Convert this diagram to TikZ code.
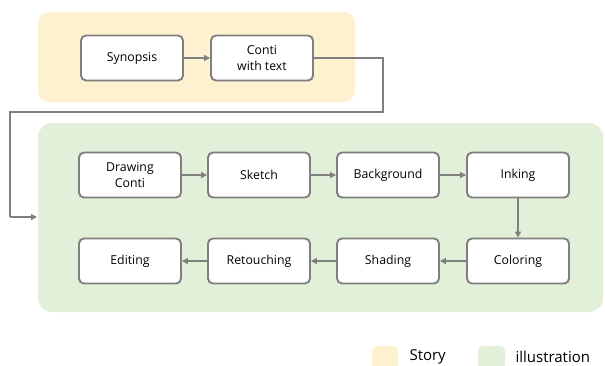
\documentclass[tikz,border=0pt]{standalone}
\usepackage{fontspec}
\setmainfont{Open Sans}
\usepackage{tikz}
\usetikzlibrary{positioning,arrows.meta,calc}
\definecolor{storyColor}{HTML}{FDF1D0}
\definecolor{illuColor}{HTML}{E2EFD9}
\definecolor{lineGray}{HTML}{7F7F7F}

\tikzset{
  stagebox/.style={draw=lineGray, line width=1.9pt, fill=white, rounded corners=5pt,
    minimum width=102pt, minimum height=45pt, align=center, font=\fontsize{12.3}{16.5}\selectfont},
  link/.style={draw=lineGray, line width=1.3pt, -{Triangle[length=6pt,width=6pt]}},
  route/.style={draw=lineGray, line width=1.2pt},
  legendtext/.style={anchor=west, font=\fontsize{15}{17}\selectfont},
}

\begin{document}
\begin{tikzpicture}[x=1pt, y=-1pt]
  \useasboundingbox (0,0) rectangle (605,365);

  % Panels
  \fill[storyColor, rounded corners=11pt] (38,12) rectangle (355,102);
  \fill[illuColor, rounded corners=14pt] (38,123) rectangle (603,312);

  % Story
  \node[stagebox] (synopsis) at (132,58) {Synopsis};
  \node[stagebox] (contitext) at (262,58) {Conti\\with text};

  % Illustration, first row
  \node[stagebox] (drawconti) at (130,175) {Drawing\\Conti};
  \node[stagebox] (sketch) at (259,175) {Sketch};
  \node[stagebox] (background) at (388,175) {Background};
  \node[stagebox] (inking) at (518,175) {Inking};

  % Illustration, second row
  \node[stagebox] (editing) at (130,261) {Editing};
  \node[stagebox] (retouching) at (259,261) {Retouching};
  \node[stagebox] (shading) at (388,261) {Shading};
  \node[stagebox] (coloring) at (518,261) {Coloring};

  % Arrows
  \draw[link] (synopsis) -- (contitext);
  \draw[link] (drawconti) -- (sketch);
  \draw[link] (sketch) -- (background);
  \draw[link] (background) -- (inking);
  \draw[link] (inking) -- (coloring);
  \draw[link] (coloring) -- (shading);
  \draw[link] (shading) -- (retouching);
  \draw[link] (retouching) -- (editing);

  % Story to illustration
  \coordinate (turnA) at (383,112);
  \coordinate (turnB) at (10,217);
  \coordinate (illuIn) at (37,217);
  \draw[route] (contitext.east) -| (turnA) -| (turnB);
  \draw[link] (turnB) -- (illuIn);

  % Legend
  \fill[storyColor, rounded corners=5pt] (372,346) rectangle (398,370);
  \node[legendtext] (storylbl) at (406,357) {Story};
  \fill[illuColor, rounded corners=5pt] (478,346) rectangle (505,370);
  \node[legendtext] (illulbl) at (512,357) {illustration};
\end{tikzpicture}
\end{document}
